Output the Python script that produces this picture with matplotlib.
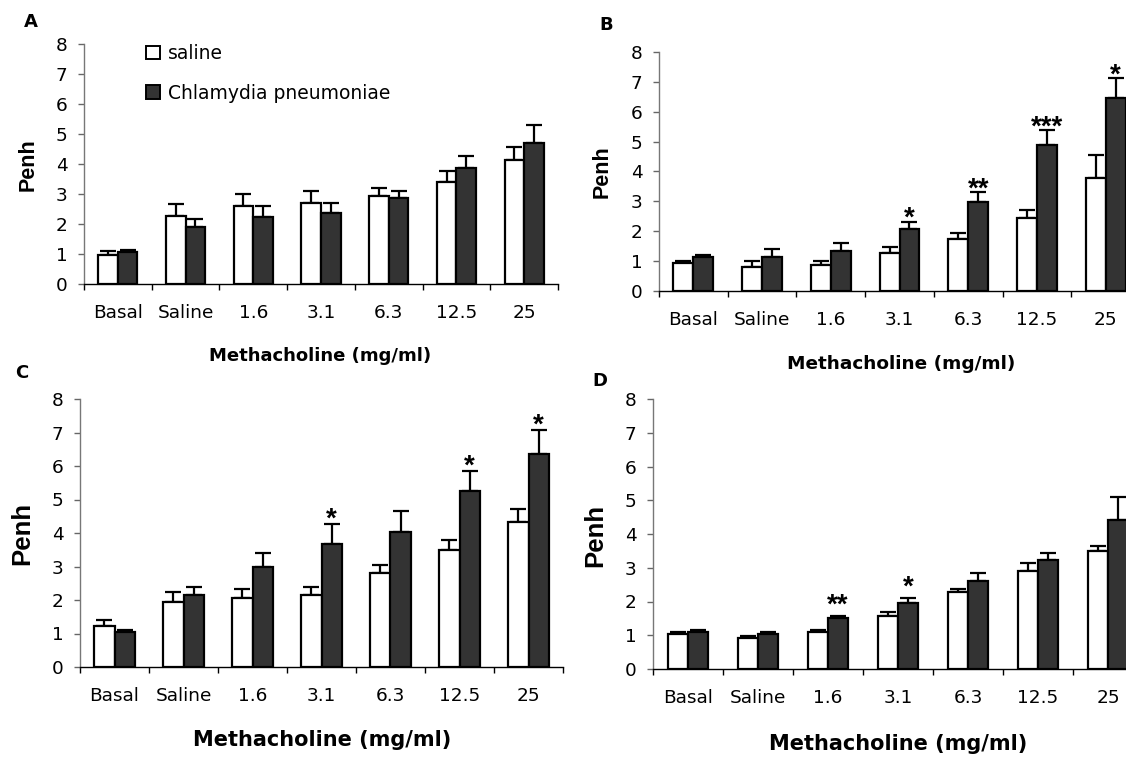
import matplotlib
matplotlib.use("Agg")
import numpy as np
from matplotlib import pyplot as plt
from matplotlib.patches import Patch

# the source figure has wide-looking Arial text, DejaVu Sans is closer to that
plt.rcParams['font.family'] = ['DejaVu Sans']

categories = ["Basal", "Saline", "1.6", "3.1", "6.3", "12.5", "25"]

# panel A
a_saline = [0.97, 2.28, 2.60, 2.69, 2.93, 3.40, 4.12]
a_saline_sem = [0.14, 0.39, 0.40, 0.42, 0.28, 0.38, 0.46]
a_cpn = [1.07, 1.90, 2.23, 2.36, 2.88, 3.86, 4.69]
a_cpn_sem = [0.05, 0.26, 0.37, 0.33, 0.23, 0.39, 0.60]
a_stars = ["", "", "", "", "", "", ""]

# panel B
b_saline = [0.95, 0.81, 0.87, 1.28, 1.73, 2.45, 3.77]
b_saline_sem = [0.06, 0.19, 0.13, 0.18, 0.20, 0.26, 0.78]
b_cpn = [1.15, 1.15, 1.34, 2.06, 2.99, 4.88, 6.46]
b_cpn_sem = [0.05, 0.25, 0.26, 0.26, 0.31, 0.51, 0.67]
b_stars = ["", "", "", "*", "**", "***", "*"]

# panel C
c_saline = [1.23, 1.93, 2.05, 2.15, 2.81, 3.50, 4.32]
c_saline_sem = [0.18, 0.30, 0.28, 0.25, 0.23, 0.30, 0.41]
c_cpn = [1.03, 2.16, 2.98, 3.68, 4.04, 5.26, 6.36]
c_cpn_sem = [0.08, 0.24, 0.42, 0.59, 0.63, 0.60, 0.71]
c_stars = ["", "", "", "*", "", "*", "*"]

# panel D
d_saline = [1.04, 0.93, 1.09, 1.56, 2.27, 2.89, 3.49]
d_saline_sem = [0.05, 0.04, 0.07, 0.12, 0.10, 0.25, 0.16]
d_cpn = [1.09, 1.04, 1.51, 1.96, 2.62, 3.24, 4.41]
d_cpn_sem = [0.07, 0.05, 0.05, 0.13, 0.22, 0.19, 0.69]
d_stars = ["", "", "**", "*", "", "", ""]

W, H = 1126, 758
DARK = "#333333"
BW = 0.29
ARIAL = ["Liberation Sans", "DejaVu Sans"]


def px(x0, y0, x1, y1):
    # pixel box (top-left origin) -> figure fraction rect
    return [x0 / W, 1 - y1 / H, (x1 - x0) / W, (y1 - y0) / H]


def panel(ax, sal, sal_sem, cpn, cpn_sem, stars, star_off):
    x = np.arange(len(categories))
    ax.bar(x - BW / 2, sal, BW, color="white", edgecolor="black", linewidth=1.6, zorder=3)
    ax.bar(x + BW / 2, cpn, BW, color=DARK, edgecolor="black", linewidth=1.6, zorder=3)
    z = np.zeros(len(x))
    ax.errorbar(x - BW / 2, sal, yerr=[z, sal_sem], fmt="none", ecolor="black",
                elinewidth=1.6, capsize=5.5, capthick=1.6, zorder=2)
    ax.errorbar(x + BW / 2, cpn, yerr=[z, cpn_sem], fmt="none", ecolor="black",
                elinewidth=1.6, capsize=5.5, capthick=1.6, zorder=2)
    for i, s in enumerate(stars):
        if s:
            ax.annotate(s, (x[i] + BW / 2, cpn[i] + cpn_sem[i]), xytext=(0, star_off),
                        textcoords="offset points", ha="center", va="baseline",
                        fontsize=20, fontweight="bold", family=ARIAL,
                        annotation_clip=False)

    ax.set_xlim(-0.5, len(x) - 0.5)
    ax.set_ylim(0, 8)
    ax.set_yticks(range(9))
    ax.set_xticks(np.arange(len(x) + 1) - 0.5)
    ax.set_xticklabels([])
    ax.set_xticks(x, minor=True)
    ax.set_xticklabels(categories, minor=True)
    ax.tick_params(axis="x", which="major", length=4, direction="out", width=1)
    ax.tick_params(axis="x", which="minor", length=0, pad=14.5, labelsize=13.3)
    ax.tick_params(axis="y", length=4.5, width=1, color="#666666", pad=7.5, labelsize=13.3)
    ax.spines["top"].set_visible(False)
    ax.spines["right"].set_visible(False)
    ax.spines["left"].set_color("#777777")
    ax.spines["bottom"].set_color("black")
    for sp in ax.spines.values():
        sp.set_linewidth(1)


fig = plt.figure(figsize=(W / 100, H / 100), dpi=100)

ax_a = fig.add_axes(px(84, 44, 558, 284))
panel(ax_a, a_saline, a_saline_sem, a_cpn, a_cpn_sem, a_stars, -3)
ax_b = fig.add_axes(px(659, 52, 1140, 291))
panel(ax_b, b_saline, b_saline_sem, b_cpn, b_cpn_sem, b_stars, -3)
ax_c = fig.add_axes(px(80, 399, 563, 667))
panel(ax_c, c_saline, c_saline_sem, c_cpn, c_cpn_sem, c_stars, -2)
ax_d = fig.add_axes(px(653, 399, 1143, 669))
panel(ax_d, d_saline, d_saline_sem, d_cpn, d_cpn_sem, d_stars, 2.5)

handles = [Patch(facecolor="white", edgecolor="black", linewidth=1.4),
           Patch(facecolor=DARK, edgecolor="black", linewidth=1.4)]
ax_a.legend(handles, ["saline", "Chlamydia pneumoniae"], loc="upper left",
            bbox_to_anchor=(146 / W, 1 - 44 / H), bbox_transform=fig.transFigure,
            frameon=False, fontsize=13.5, handlelength=0.72, handleheight=0.72,
            handletextpad=0.45, labelspacing=1.1, borderaxespad=0, borderpad=0)


def ftext(x, y, s, **kw):
    fig.text(x / W, 1 - y / H, s, ha="center", va="center", fontweight="bold", **kw)


ftext(31, 22, "A", fontsize=13)
ftext(606, 25, "B", fontsize=13)
ftext(22, 373, "C", fontsize=13)
ftext(600, 381, "D", fontsize=13)

ftext(28, 165, "Penh", fontsize=15.5, rotation=90, family=ARIAL)
ftext(602, 172, "Penh", fontsize=15.5, rotation=90, family=ARIAL)
ftext(22, 533, "Penh", fontsize=18.5, rotation=90, family=ARIAL)
ftext(595, 535, "Penh", fontsize=18.5, rotation=90, family=ARIAL)

ftext(320, 356, "Methacholine (mg/ml)", fontsize=13)
ftext(901, 364, "Methacholine (mg/ml)", fontsize=13.3)
ftext(322, 740, "Methacholine (mg/ml)", fontsize=15)
ftext(898, 744, "Methacholine (mg/ml)", fontsize=15)

fig.savefig("out.png", dpi=100)
